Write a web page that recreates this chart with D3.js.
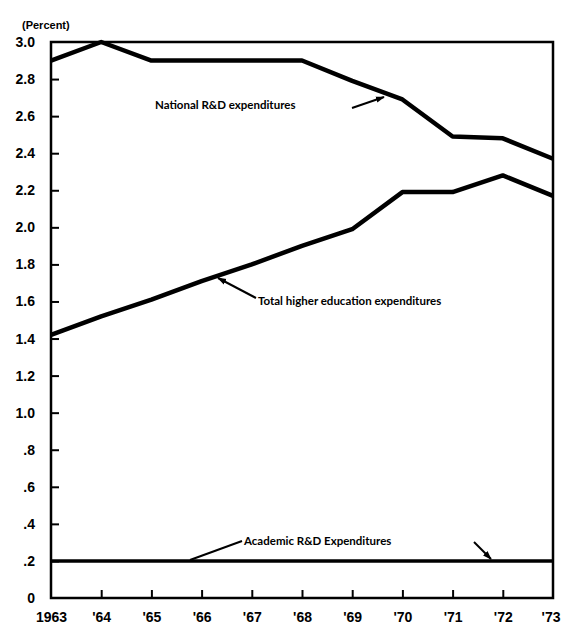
<!DOCTYPE html>
<html><head><meta charset="utf-8">
<script src="https://cdn.jsdelivr.net/npm/d3@7"></script>
<style>
html,body{margin:0;padding:0;background:#fff;}
svg{display:block;}
</style></head>
<body>
<script>
const years = [1963,1964,1965,1966,1967,1968,1969,1970,1971,1972,1973];
const yearLabels = ["1963","'64","'65","'66","'67","'68","'69","'70","'71","'72","'73"];
const nationalRD = [2.90,3.00,2.90,2.90,2.90,2.90,2.79,2.69,2.49,2.48,2.37];
const higherEd = [1.42,1.52,1.61,1.71,1.80,1.90,1.99,2.19,2.19,2.28,2.17];
const academicRD = [0.20,0.20,0.20,0.20,0.20,0.20,0.20,0.20,0.20,0.20,0.20];
const yTicks = [0,0.2,0.4,0.6,0.8,1.0,1.2,1.4,1.6,1.8,2.0,2.2,2.4,2.6,2.8,3.0];
const yTickLabels = ["0",".2",".4",".6",".8","1.0","1.2","1.4","1.6","1.8","2.0","2.2","2.4","2.6","2.8","3.0"];

const W=561,H=625;
const svg=d3.select("body").append("svg").attr("width",W).attr("height",H);
const x=d3.scaleLinear().domain([1963,1973]).range([51,553]);
const y=d3.scaleLinear().domain([0,3]).range([598,42]);

const defs=svg.append("defs");
defs.append("marker").attr("id","arr").attr("viewBox","0 0 10 10").attr("refX",9).attr("refY",5)
 .attr("markerWidth",4.5).attr("markerHeight",4.5).attr("orient","auto").attr("markerUnits","strokeWidth")
 .append("path").attr("d","M0,1.5 L10,5 L0,8.5 Z").attr("fill","#000");

// frame
svg.append("rect").attr("x",x(1963)).attr("y",y(3)).attr("width",x(1973)-x(1963)).attr("height",y(0)-y(3))
 .attr("fill","none").attr("stroke","#000").attr("stroke-width",2.5);

const tf="Liberation Sans, Arial, sans-serif";
// y axis
const yAx=svg.append("g").attr("transform",`translate(${x(1963)},0)`)
 .call(d3.axisLeft(y).tickValues(yTicks).tickSize(-8).tickPadding(16).tickFormat((d,i)=>yTickLabels[i]));
yAx.select(".domain").remove();
yAx.selectAll(".tick line").attr("stroke","#000").attr("stroke-width",2);
yAx.selectAll(".tick line").filter(d=>d===0||d===3).remove();
yAx.selectAll("text").attr("font-family",tf).attr("font-weight","bold").attr("font-size",14).attr("fill","#000");

// x axis
const xAx=svg.append("g").attr("transform",`translate(0,${y(0)})`)
 .call(d3.axisBottom(x).tickValues(years).tickSize(-8).tickPadding(14).tickFormat((d,i)=>yearLabels[i]));
xAx.select(".domain").remove();
xAx.selectAll(".tick line").attr("stroke","#000").attr("stroke-width",2);
xAx.selectAll(".tick line").filter(d=>d===1963||d===1973).remove();
xAx.selectAll("text").attr("font-family",tf).attr("font-weight","bold").attr("font-size",14).attr("fill","#000");
xAx.selectAll("text").filter(d=>d===1973).attr("text-anchor","end").attr("dx",7);

// lines
const line=d3.line().x((d,i)=>x(years[i])).y(d=>y(d));
[nationalRD,higherEd].forEach(s=>{
 svg.append("path").datum(s).attr("d",line).attr("fill","none").attr("stroke","#000").attr("stroke-width",4.5).attr("stroke-linejoin","round");
});
svg.append("path").datum(academicRD).attr("d",line).attr("fill","none").attr("stroke","#000").attr("stroke-width",3.5);

// unit label
svg.append("text").attr("x",22).attr("y",29).text("(Percent)")
 .attr("font-family",tf).attr("font-weight","bold").attr("font-size",11);

const lf="Lato, 'Open Sans', sans-serif";
// annotations
svg.append("text").attr("x",155).attr("y",109).text("National R&D expenditures").attr("font-family",lf).attr("font-size",11.5).attr("font-weight","bold");
svg.append("line").attr("x1",352).attr("y1",108).attr("x2",384).attr("y2",97).attr("stroke","#000").attr("stroke-width",2).attr("marker-end","url(#arr)");

svg.append("text").attr("x",258).attr("y",305).text("Total higher education expenditures").attr("font-family",lf).attr("font-size",11.5).attr("font-weight","bold");
svg.append("line").attr("x1",256).attr("y1",298).attr("x2",218).attr("y2",278).attr("stroke","#000").attr("stroke-width",2).attr("marker-end","url(#arr)");

svg.append("text").attr("x",244).attr("y",545).text("Academic R&D Expenditures").attr("font-family",lf).attr("font-size",11.5).attr("font-weight","bold");
svg.append("line").attr("x1",242).attr("y1",541).attr("x2",190).attr("y2",560).attr("stroke","#000").attr("stroke-width",2);
svg.append("line").attr("x1",474).attr("y1",542).attr("x2",491).attr("y2",559).attr("stroke","#000").attr("stroke-width",2).attr("marker-end","url(#arr)");
</script>
</body></html>
